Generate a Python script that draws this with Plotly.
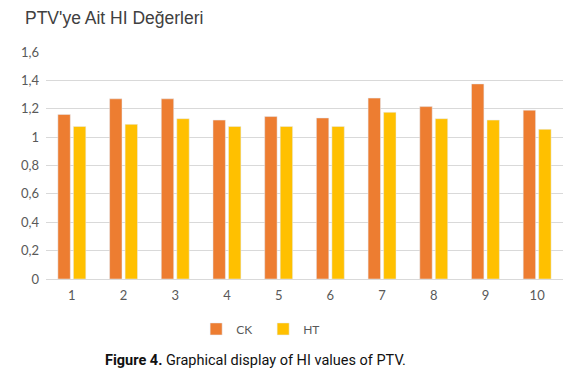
import plotly.graph_objects as go

categories = ["1", "2", "3", "4", "5", "6", "7", "8", "9", "10"]
ck_values = [1.16, 1.27, 1.27, 1.12, 1.145, 1.135, 1.275, 1.215, 1.375, 1.19]
ht_values = [1.075, 1.09, 1.13, 1.075, 1.075, 1.075, 1.175, 1.13, 1.12, 1.055]
y_tick_vals = [0, 0.2, 0.4, 0.6, 0.8, 1.0, 1.2, 1.4, 1.6]
y_tick_text = ["0", "0,2", "0,4", "0,6", "0,8", "1", "1,2", "1,4", "1,6"]

W, H = 574, 367  # page body has an 8px margin

fig = go.Figure()
fig.add_trace(go.Bar(x=categories, y=ck_values, name="CK", marker_color="#ED7D31"))
fig.add_trace(go.Bar(x=categories, y=ht_values, name="HT", marker_color="#FFC000"))

fig.update_layout(
    width=W, height=H,
    margin=dict(l=38, r=19, t=44, b=96),
    paper_bgcolor="white", plot_bgcolor="white",
    barmode="group", bargap=0.4, bargroupgap=0.2,
    font=dict(family="Lato, Liberation Sans, sans-serif", color="#595959", size=13),
    title=dict(text="PTV'ye Ait HI Değerleri", x=17 / W, xref="container", xanchor="left",
               y=1 - 10 / H, yanchor="middle",
               font=dict(family="Liberation Sans, Arial, sans-serif", size=17.5, color="#404040")),
    legend=dict(orientation="h", x=0.42, xanchor="center", y=-0.22, yanchor="middle",
                font=dict(size=12, color="#595959"), itemwidth=30,
                entrywidth=22, entrywidthmode="pixels"),
    showlegend=True,
)
fig.update_yaxes(range=[0, 1.6], tickvals=y_tick_vals, ticktext=y_tick_text,
                 showgrid=True, gridcolor="#D9D9D9", gridwidth=1, zeroline=False,
                 ticks="", ticklabelstandoff=6)
fig.update_xaxes(showline=True, linecolor="#D9D9D9", linewidth=1, ticks="",
                 ticklabelstandoff=4)

fig.add_annotation(text="<b>Figure 4.</b> Graphical display of HI values of PTV.",
                   xref="paper", yref="paper", x=0.406, y=-0.357,
                   xanchor="center", yanchor="middle", showarrow=False,
                   font=dict(family="Liberation Sans Narrow, Roboto, sans-serif", size=14.5, color="#111111"))

fig.write_html("out.html")
